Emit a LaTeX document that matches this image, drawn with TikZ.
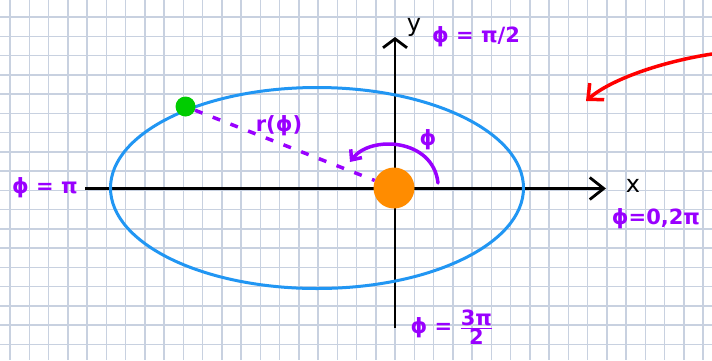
\documentclass[tikz,border=0pt]{standalone}
\usepackage{fontspec}
\setmainfont{DejaVu Sans}
\usepackage{xcolor}
\usetikzlibrary{arrows.meta,positioning}
\definecolor{gridblue}{RGB}{200,209,224}
\definecolor{orbitblue}{RGB}{33,150,243}
\definecolor{sunorange}{RGB}{255,140,0}
\definecolor{planetgreen}{RGB}{0,204,0}
\definecolor{notepurple}{RGB}{153,0,255}
\definecolor{notered}{RGB}{255,0,0}

\begin{document}
\begin{tikzpicture}[
  x=1pt, y=-1pt,
  axis/.style={line width=2.8pt, -{Straight Barb[length=14pt,width=22pt]}},
  orbit/.style={draw=orbitblue, line width=3pt},
  body/.style={circle, inner sep=0pt},
  note/.style={text=notepurple, font=\fontsize{21}{25}\selectfont\bfseries, inner sep=0pt},
  axlabel/.style={font=\fontsize{24}{28}\selectfont, inner sep=0pt},
  pointer/.style={line width=3.5pt, line cap=round, -{Straight Barb[length=8pt,width=14pt]}}
]
\fill[white] (0,0) rectangle (712,360);
\useasboundingbox (0,0) rectangle (712,360);
% graph paper
\foreach \i in {0,...,36} \draw[gridblue, line width=1.5pt] (10+19.25*\i,0) -- (10+19.25*\i,360);
\foreach \j in {0,...,18} \draw[gridblue, line width=1.5pt] (0,17+19.25*\j) -- (712,17+19.25*\j);

% axes
\coordinate (xstart) at (85,188.5);
\coordinate (xend) at (606,188.5);
\coordinate (ystart) at (395,328);
\coordinate (yend) at (395,37);
\draw[axis] (xstart) -- (xend);
\draw[axis, -{Straight Barb[length=9pt,width=24pt]}] (ystart) -- (yend);

% orbit, sun and planet
\draw[orbit] (317,188) ellipse [x radius=206.5pt, y radius=100.5pt];
\node[body, fill=sunorange, minimum size=41pt] (sun) at (394,188) {};
\node[body, fill=planetgreen, minimum size=20pt] (planet) at (185.5,106.5) {};
\draw[notepurple, line width=3.5pt, dash pattern=on 8pt off 11pt] (planet) -- (sun);

% angle arrow
\coordinate (arcstart) at (438,183);
\coordinate (arcend) at (350,162);
\draw[pointer, notepurple] (arcstart) .. controls (433,138) and (370,135) .. (arcend);

% labels
\node[axlabel] (ylabel) at (414,27) {y};
\node[axlabel] (xlabel) at (633,186) {x};
\node[note] (phiang) at (428,140) {ϕ};
\node[note] (rlabel) at (279,126) {r(ϕ)};
\node[note] (ptop) at (476,37) {ϕ = π/2};
\node[note] (pright) at (656,219) {ϕ=0,2π};
\node[note] (pleft) at (45,188) {ϕ = π};
\node[note] (pbottom) at (452,327) {ϕ = $\frac{\mbox{3π}}{\mbox{2}}$};

% red pointer
\coordinate (redstart) at (712,54);
\coordinate (redtip) at (586,101);
\draw[pointer, notered, -{Straight Barb[length=12pt,width=22pt]}] (redstart) .. controls (660,62) and (610,80) .. (redtip);
\end{tikzpicture}
\end{document}
